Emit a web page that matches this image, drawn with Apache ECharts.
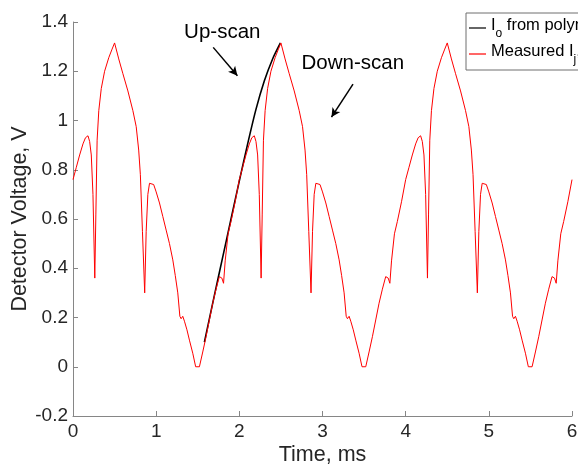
<!DOCTYPE html>
<html>
<head>
<meta charset="utf-8">
<script src="https://cdn.jsdelivr.net/npm/echarts@6/dist/echarts.min.js"></script>
<style>
html,body{margin:0;padding:0;background:#fff;}
#chart{width:578px;height:466px;}
</style>
</head>
<body>
<div id="chart"></div>
<script>
// ---- data ----
const xTicks = [0, 1, 2, 3, 4, 5, 6];
const yTicks = [-0.2, 0, 0.2, 0.4, 0.6, 0.8, 1, 1.2, 1.4];

// Measured I (red), time in ms
const measuredT = [
  0.00,0.04,0.08,0.12,0.15,0.18,0.20,0.22,0.24,0.262,0.275,0.29,0.31,0.34,0.38,0.43,0.47,0.50,0.55,0.60,0.66,0.72,0.76,0.79,0.81,0.835,0.862,0.88,0.90,0.92,0.943,0.97,1.00,1.04,1.08,1.12,1.16,1.20,1.23,1.26,1.285,1.30,1.32,1.34,1.37,1.40,1.44,1.475,1.52,1.56,1.60,1.64,1.68,1.72,1.76,1.775,1.79,1.81,1.83,1.865,1.90,1.95,
  2.00,2.04,2.08,2.12,2.15,2.18,2.20,2.22,2.24,2.262,2.275,2.29,2.31,2.34,2.38,2.43,2.47,2.50,2.55,2.60,2.66,2.72,2.76,2.79,2.81,2.835,2.862,2.88,2.90,2.92,2.943,2.97,3.00,3.04,3.08,3.12,3.16,3.20,3.23,3.26,3.285,3.30,3.32,3.34,3.37,3.40,3.44,3.475,3.52,3.56,3.60,3.64,3.68,3.72,3.76,3.775,3.79,3.81,3.83,3.865,3.90,3.95,
  4.00,4.04,4.08,4.12,4.15,4.18,4.20,4.22,4.24,4.262,4.275,4.29,4.31,4.34,4.38,4.43,4.47,4.50,4.55,4.60,4.66,4.72,4.76,4.79,4.81,4.835,4.862,4.88,4.90,4.92,4.943,4.97,5.00,5.04,5.08,5.12,5.16,5.20,5.23,5.26,5.285,5.30,5.32,5.34,5.37,5.40,5.44,5.475,5.52,5.56,5.60,5.64,5.68,5.72,5.76,5.775,5.79,5.81,5.83,5.865,5.90,5.95,6.00
];
const measuredV = [
  0.76,0.81,0.86,0.905,0.93,0.938,0.915,0.86,0.70,0.36,0.62,0.92,1.04,1.13,1.20,1.255,1.29,1.315,1.25,1.19,1.12,1.04,0.975,0.88,0.78,0.55,0.30,0.55,0.70,0.745,0.752,0.74,0.71,0.665,0.61,0.555,0.50,0.434,0.37,0.30,0.205,0.195,0.205,0.185,0.15,0.108,0.055,0.0,0.0,0.06,0.122,0.19,0.258,0.315,0.366,0.373,0.36,0.339,0.43,0.54,0.59,0.67,
  0.76,0.81,0.86,0.905,0.93,0.938,0.915,0.86,0.70,0.36,0.62,0.92,1.04,1.13,1.20,1.255,1.29,1.315,1.25,1.19,1.12,1.04,0.975,0.88,0.78,0.55,0.30,0.55,0.70,0.745,0.752,0.74,0.71,0.665,0.61,0.555,0.50,0.434,0.37,0.30,0.205,0.195,0.205,0.185,0.15,0.108,0.055,0.0,0.0,0.06,0.122,0.19,0.258,0.315,0.366,0.373,0.36,0.339,0.43,0.54,0.59,0.67,
  0.76,0.81,0.86,0.905,0.93,0.938,0.915,0.86,0.70,0.36,0.62,0.92,1.04,1.13,1.20,1.255,1.29,1.315,1.25,1.19,1.12,1.04,0.975,0.88,0.78,0.55,0.30,0.55,0.70,0.745,0.752,0.74,0.71,0.665,0.61,0.555,0.50,0.434,0.37,0.30,0.205,0.195,0.205,0.185,0.15,0.108,0.055,0.0,0.0,0.06,0.122,0.19,0.258,0.315,0.366,0.373,0.36,0.339,0.43,0.54,0.59,0.67,0.76
];

// I_o from polynomial (black), up-scan only
const polyT = [1.58,1.70,1.80,1.90,2.00,2.10,2.20,2.30,2.40,2.494];
const polyV = [0.10,0.29,0.445,0.60,0.755,0.905,1.045,1.16,1.25,1.315];

// annotations (data coordinates)
const annotationText = ['Up-scan', 'Down-scan'];
const annotationT = [1.795, 3.364];
const annotationV = [1.357, 1.233];
const arrowFromT = [1.686, 3.367];
const arrowFromV = [1.297, 1.148];
const arrowToT = [1.977, 3.108];
const arrowToV = [1.182, 1.014];

// ---- chart ----
const FONT = '"Liberation Sans", Arial, Helvetica, sans-serif';
const chart = echarts.init(document.getElementById('chart'), null, {renderer: 'canvas'});

const measured = measuredT.map((t, i) => [t, measuredV[i]]);
const poly = polyT.map((t, i) => [t, polyV[i]]);

const textPoints = annotationText.map((s, i) => ({
  name: s, coord: [annotationT[i], annotationV[i]]
}));
const arrows = arrowFromT.map((t, i) => [
  {coord: [t, arrowFromV[i]]},
  {coord: [arrowToT[i], arrowToV[i]]}
]);

const axisColor = '#868686';
const labelColor = '#262626';

const legendRich = {
  a: {fontSize: 16.5, fontFamily: FONT, color: '#000', height: 18, lineHeight: 24, verticalAlign: 'top'},
  s: {fontSize: 12, fontFamily: FONT, color: '#000', height: 12, lineHeight: 24, verticalAlign: 'bottom'}
};

chart.setOption({
  animation: false,
  backgroundColor: '#fff',
  grid: {left: 73, right: 6, top: 22, bottom: 50, containLabel: false, outerBoundsMode: 'none'},
  xAxis: {
    type: 'value', min: xTicks[0], max: xTicks[xTicks.length - 1], interval: 1,
    name: 'Time, ms', nameLocation: 'middle', nameGap: 28, nameMoveOverlap: false,
    nameTextStyle: {fontSize: 21.5, fontFamily: FONT, color: labelColor},
    axisLine: {show: true, onZero: false, lineStyle: {color: axisColor, width: 1}},
    axisTick: {show: true, inside: true, length: 5, lineStyle: {color: axisColor}},
    axisLabel: {fontSize: 19, fontFamily: FONT, color: labelColor, margin: 6},
    splitLine: {show: false}
  },
  yAxis: {
    type: 'value', min: yTicks[0], max: yTicks[yTicks.length - 1], interval: 0.2,
    name: 'Detector Voltage, V', nameLocation: 'middle', nameGap: 42, nameMoveOverlap: false,
    nameTextStyle: {fontSize: 21.5, fontFamily: FONT, color: labelColor},
    axisLine: {show: true, onZero: false, lineStyle: {color: axisColor, width: 1}},
    axisTick: {show: true, inside: true, length: 5, lineStyle: {color: axisColor}},
    axisLabel: {fontSize: 19, fontFamily: FONT, color: labelColor, margin: 5,
      formatter: v => String(Math.round(v * 10) / 10)},
    splitLine: {show: false}
  },
  legend: {
    data: [{name: 'Io', icon: 'rect'}, {name: 'Measured', icon: 'rect'}],
    orient: 'vertical', left: 466, top: 13,
    itemWidth: 17, itemHeight: 1.2, itemGap: 2,
    padding: [3, 40, 4, 3],
    borderColor: '#6e6e6e', borderWidth: 1, backgroundColor: '#fff', borderRadius: 0,
    formatter: n => n === 'Io' ? '{a|I}{s|o}{a| from polynomial}' : '{a|Measured I}{s|j}{a|, V}',
    textStyle: {rich: legendRich, fontFamily: FONT, fontSize: 16.5},
    selectedMode: false
  },
  series: [
    {
      name: 'Io', type: 'line', data: poly, showSymbol: false, symbol: 'none',
      smooth: 0.25,
      lineStyle: {color: '#000', width: 1.6}, itemStyle: {color: '#000'},
      z: 2,
      markLine: {
        silent: true, symbol: ['none', 'arrow'], symbolSize: [7, 9],
        lineStyle: {color: '#000', width: 1.5, type: 'solid'},
        label: {show: false},
        data: arrows
      },
      markPoint: {
        silent: true, symbol: 'circle', symbolSize: 1,
        itemStyle: {color: 'rgba(0,0,0,0)'},
        label: {show: true, position: 'inside', formatter: '{b}', color: '#000', fontSize: 20.5, fontFamily: FONT},
        data: textPoints
      }
    },
    {
      name: 'Measured', type: 'line', data: measured, showSymbol: false, symbol: 'none',
      lineStyle: {color: '#ff0000', width: 1}, itemStyle: {color: '#ff0000'},
      z: 3
    }
  ]
});
</script>
</body>
</html>
